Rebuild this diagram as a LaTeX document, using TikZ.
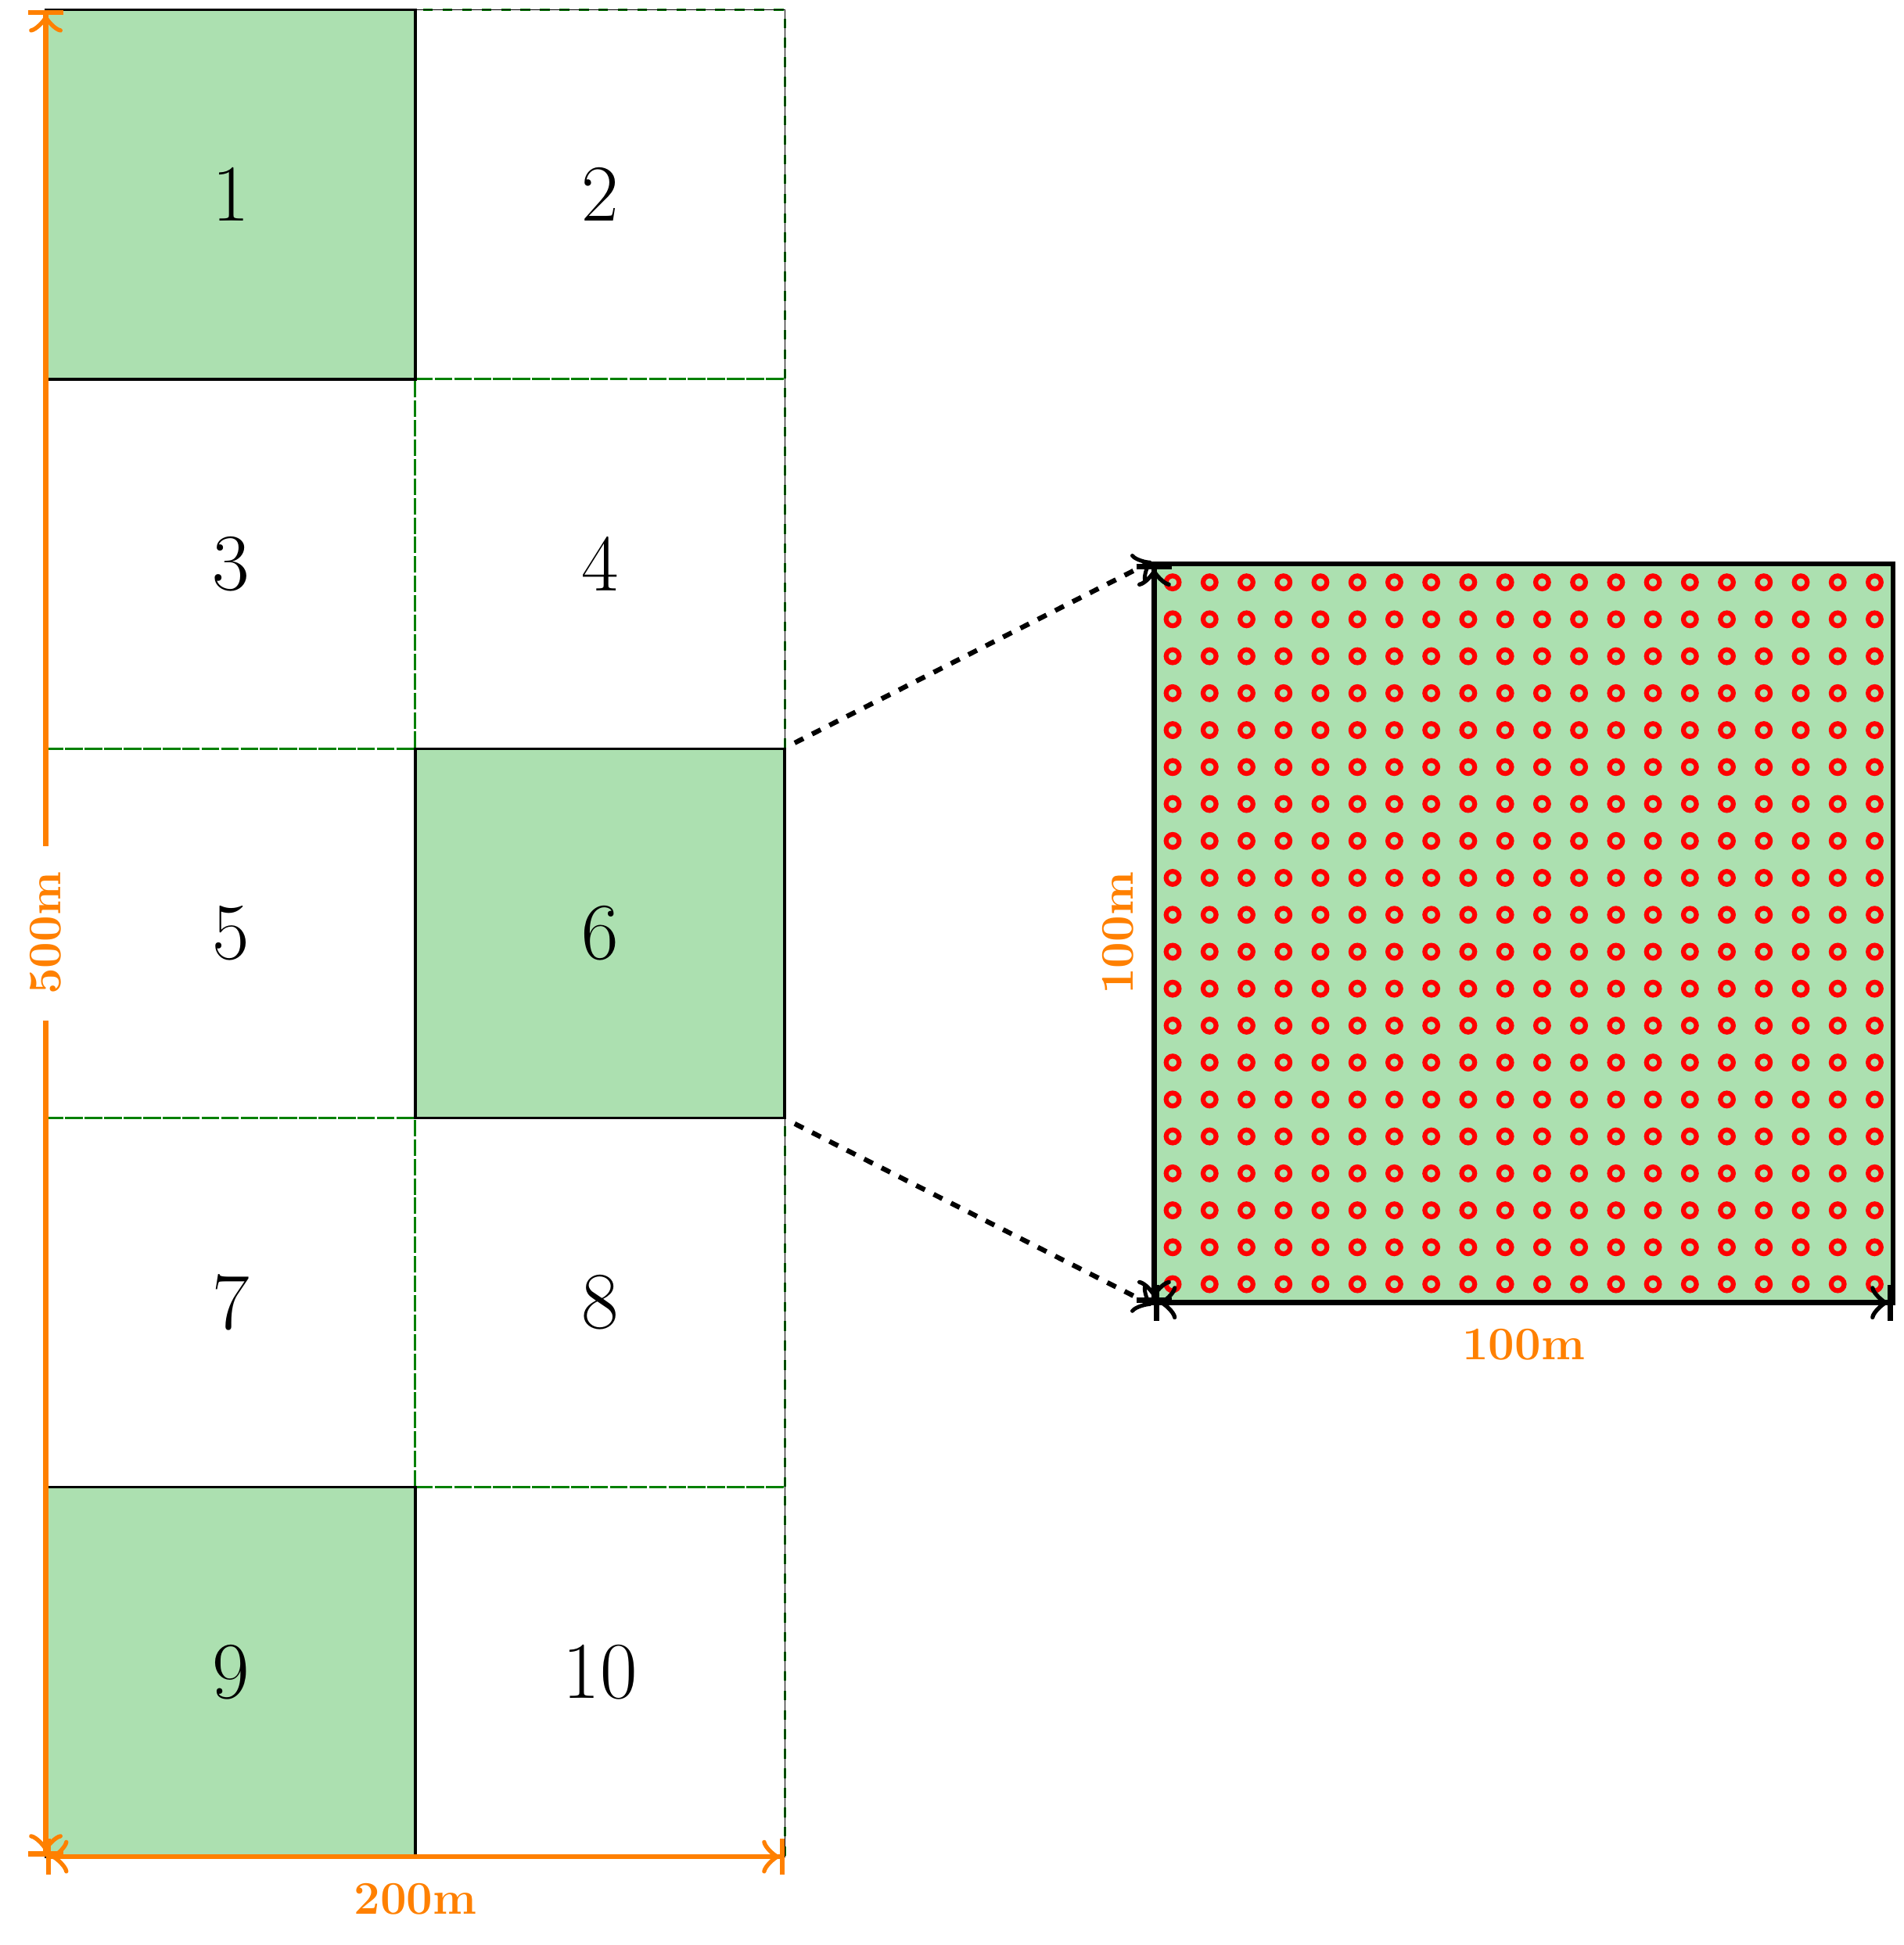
\documentclass[tikz,border=0pt]{standalone}
\usepackage{tikz}
\usetikzlibrary{calc,positioning,arrows.meta}
\definecolor{plotgreen}{RGB}{172,224,176}
\definecolor{gridgreen}{RGB}{0,128,0}
\definecolor{dimorange}{RGB}{255,128,0}

\begin{document}
\begin{tikzpicture}[x=4cm,y=4cm,
  cell/.style={draw=gridgreen,dashed,line width=0.7pt,minimum size=4cm,inner sep=0pt,font=\Huge},
  plot/.style={cell,draw=black,solid,thick,fill=plotgreen},
  dimline/.style={dimorange,line width=1.6pt,
    {Bar[width=11pt]Classical TikZ Rightarrow[scale=1.3]}-{Classical TikZ Rightarrow[scale=1.3]Bar[width=11pt]}},
  dimtext/.style={dimorange,font=\Large\bfseries},
  zoomline/.style={black,line width=1.5pt,dashed,-{Classical TikZ Rightarrow[scale=1.3]},shorten <=3pt}]
  \useasboundingbox (-0.124,-0.239) rectangle (5.0295,5.0268);
  \coordinate (SW) at (0,0);
  \coordinate (NW) at (0,5);
  \coordinate (SE) at (2,0);
  \coordinate (NE) at (2,5);
  \coordinate (ZSW) at (3,1.5);
  \coordinate (ZNW) at (3,3.5);
  \coordinate (ZSE) at (5,1.5);
  \node[cell] (C2) at (1.5,4.5) {2};
  \node[cell] (C3) at (0.5,3.5) {3};
  \node[cell] (C4) at (1.5,3.5) {4};
  \node[cell] (C5) at (0.5,2.5) {5};
  \node[cell] (C7) at (0.5,1.5) {7};
  \node[cell] (C8) at (1.5,1.5) {8};
  \node[cell] (C10) at (1.5,0.5) {10};
  \draw[very thin] (SW) rectangle (NE);
  \node[plot] (C1) at (0.5,4.5) {1};
  \node[plot] (C6) at (1.5,2.5) {6};
  \node[plot] (C9) at (0.5,0.5) {9};
  \draw[dimline] (SW) -- (NW) node[midway,rotate=90,dimtext,fill=white,inner xsep=8pt] (L500) {500m};
  \draw[dimline] (SW) -- (SE) node[midway,below=4pt,dimtext] (L200) {200m};
  \node[draw=black,line width=1.5pt,fill=plotgreen,minimum size=8cm,inner sep=0pt] (Z) at (4,2.5) {};
  \foreach \i in {0,...,19}
    \foreach \j in {0,...,19}
      \draw[red,line width=1.5pt] ({3.05+0.1*\i},{1.55+0.1*\j}) circle (2pt);
  \draw[zoomline] (C6.north east) -- (Z.north west);
  \draw[zoomline] (C6.south east) -- (Z.south west);
  \draw[dimline,black] (ZSW) -- (ZNW) node[midway,rotate=90,anchor=south,outer sep=3pt,dimtext] (L100a) {100m};
  \draw[dimline,black] (ZSW) -- (ZSE) node[midway,below=4pt,dimtext] (L100b) {100m};
\end{tikzpicture}
\end{document}
